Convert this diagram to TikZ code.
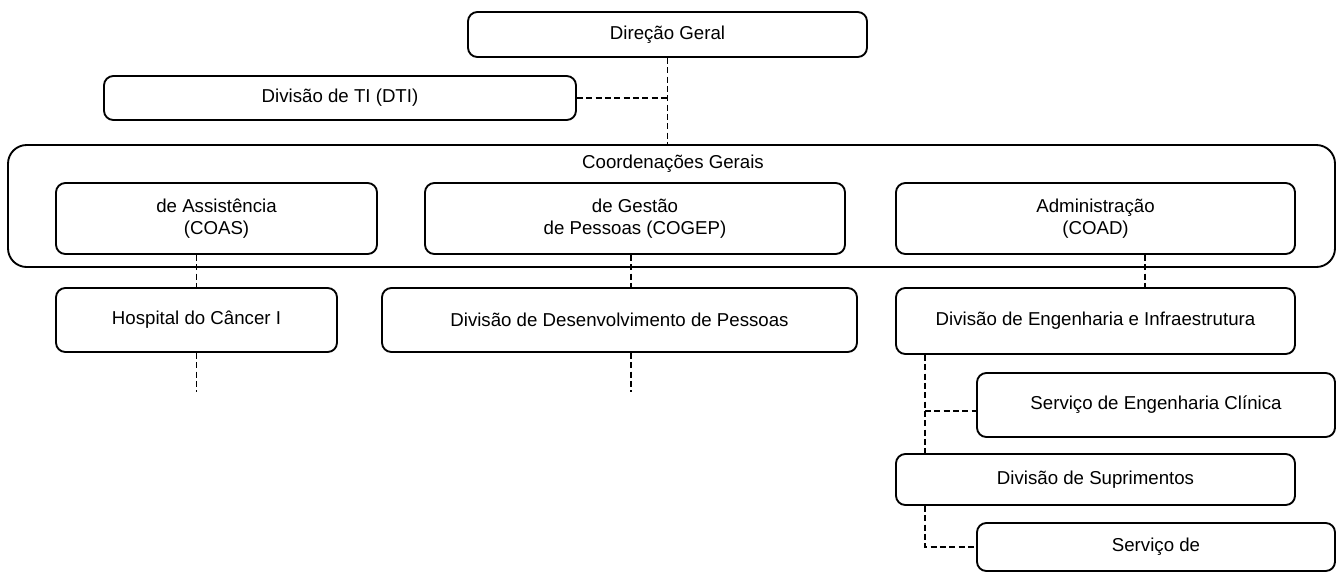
\documentclass[tikz,border=0pt]{standalone}
\usepackage{fontspec}
\setmainfont{Liberation Sans}
\usetikzlibrary{calc}

\begin{document}
\begin{tikzpicture}[
  x=0.75pt, y=-0.75pt,
  every node/.style={font=\fontsize{14}{16}\selectfont},
  unit/.style={draw, line width=1.4pt, rounded corners=7pt, align=center, inner sep=0pt},
  dims/.style 2 args={minimum width=#1*0.75pt, minimum height=#2*0.75pt},
  link/.style={line width=1pt, dash pattern=on 4.5pt off 2.5pt}
]
  \useasboundingbox (0,0) rectangle (1338,572);

  % Top level
  \node[unit, dims={399}{45}] (dg) at (667.5,34.5) {Direção Geral};
  \node[unit, dims={472}{44}] (dti) at (340,98) {Divisão de TI (DTI)};

  % Coordenações (outer frame and its three boxes)
  \node[unit, rounded corners=14pt, dims={1327}{122}] (cg) at (671.5,206) {};
  \node (cglabel) at (673,164) {Coordenações Gerais};
  \node[unit, dims={321}{71}] (coas) at (216.5,218.5) {de Assistência\\(COAS)};
  \node[unit, dims={420}{71}] (cogep) at (635,218.5) {de Gestão\\de Pessoas (COGEP)};
  \node[unit, dims={399}{71}] (coad) at (1095.5,218.5) {Administração\\(COAD)};

  % Divisions
  \node[unit, dims={281}{64}] (hc1) at (196.5,320) {Hospital do Câncer I};
  \node[unit, dims={475}{64}] (ddp) at (619.5,320) {Divisão de Desenvolvimento de Pessoas};
  \node[unit, dims={399}{66}] (dei) at (1095.5,321) {Divisão de Engenharia e Infraestrutura};
  \node[unit, dims={358}{64}] (sec) at (1156,405) {Serviço de Engenharia Clínica};
  \node[unit, dims={399}{51}] (dsu) at (1095.5,479.5) {Divisão de Suprimentos};
  \node[unit, dims={358}{48}] (sde) at (1156,547) {Serviço de};

  % Free ends and bends of the dashed links
  \coordinate (hcend) at (196.5,392);
  \coordinate (gpend) at (631,392);
  \coordinate (adx) at (1145,0);
  \coordinate (engx) at (925,411);

  % Dashed links
  \draw[link] (dg.south) -- (dg.south |- cg.north);
  \draw[link] (dti.east) -- (dg.south |- dti.east);
  \draw[link] (hc1.north |- coas.south) -- (hc1.north);
  \draw[link] (hc1.south) -- (hcend);
  \draw[link] (gpend |- cogep.south) -- (gpend |- ddp.north);
  \draw[link] (gpend |- ddp.south) -- (gpend);
  \draw[link] (adx |- coad.south) -- (adx |- dei.north);
  \draw[link] (engx |- dei.south) -- (engx |- dsu.north);
  \draw[link] (engx) -- (engx -| sec.west);
  \draw[link] (engx |- dsu.south) -- (engx |- sde.west) -- (sde.west);
\end{tikzpicture}
\end{document}
